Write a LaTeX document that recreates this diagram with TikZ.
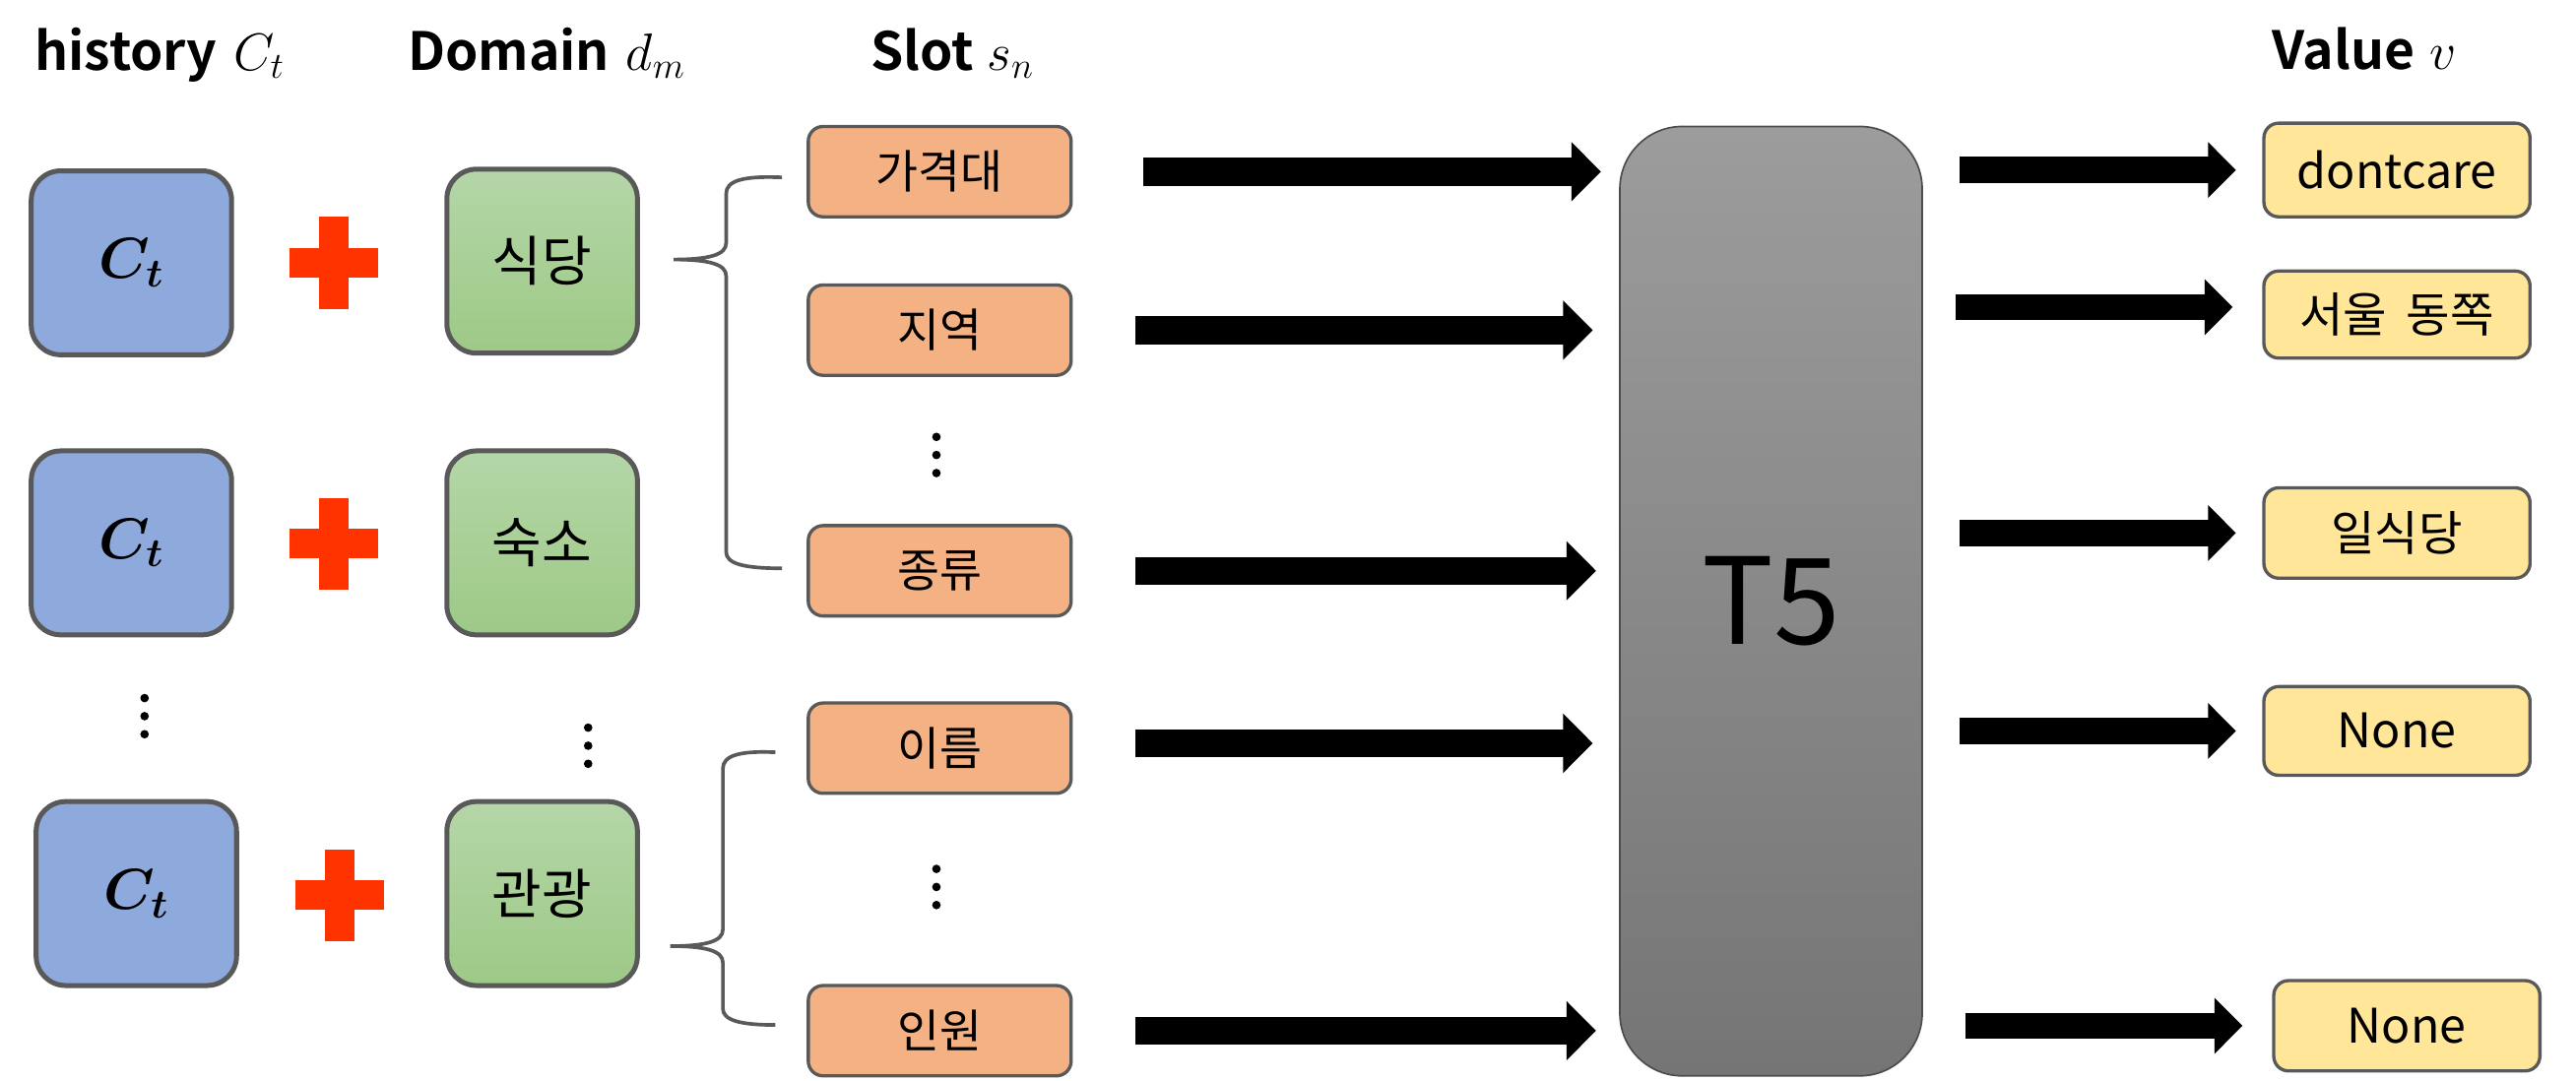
\RequirePackage{fix-cm}
\documentclass[tikz,border=0pt]{standalone}
\usepackage{fontspec}
\usepackage{bm}
\setmainfont{Noto Sans CJK KR}[BoldFont={Noto Sans CJK KR Bold}]
\usetikzlibrary{arrows.meta}

\definecolor{boxedge}{HTML}{595959}
\definecolor{histblue}{HTML}{8EA9DB}
\definecolor{domtop}{HTML}{B5D6A8}
\definecolor{dombot}{HTML}{9DC986}
\definecolor{slotorange}{HTML}{F4B183}
\definecolor{valyellow}{HTML}{FFE699}
\definecolor{plusred}{HTML}{FF3300}
\definecolor{tfivetop}{HTML}{9C9C9C}
\definecolor{tfivebot}{HTML}{757575}

% math symbol set at its own size next to a heading word
\newcommand{\headmath}[1]{{\fontsize{32}{32}\selectfont$#1$}}

\tikzset{
  histbox/.style={draw=boxedge, line width=3pt, rounded corners=18pt, fill=histblue,
    minimum width=122pt, minimum height=112pt, inner sep=0pt, font=\fontsize{35}{35}\selectfont},
  dombox/.style={draw=boxedge, line width=3pt, rounded corners=18pt, top color=domtop, bottom color=dombot,
    minimum width=116pt, minimum height=112pt, inner sep=0pt, font=\fontsize{33}{33}\selectfont},
  slotbox/.style={draw=boxedge, line width=2pt, rounded corners=9pt, fill=slotorange,
    minimum width=160pt, minimum height=55pt, inner sep=0pt, font=\fontsize{28}{28}\selectfont},
  valbox/.style={draw=boxedge, line width=2pt, rounded corners=9pt, fill=valyellow,
    minimum width=162pt, minimum height=55pt, inner sep=0pt, font=\fontsize{29}{29}\selectfont},
  tfive/.style={draw=black!70, line width=1pt, rounded corners=38pt, top color=tfivetop, bottom color=tfivebot,
    minimum width=184pt, minimum height=578pt, inner sep=0pt, font=\fontsize{73}{73}\selectfont},
  title/.style={anchor=base west, inner sep=0pt, font=\bfseries\fontsize{32}{32}\selectfont},
  inarrow/.style={line width=17pt, -{Triangle[length=18pt,width=35pt]}},
  outarrow/.style={line width=16pt, -{Triangle[length=17pt,width=33pt]}},
  bracket/.style={draw=boxedge, line width=2.2pt},
  redplus/.pic={\fill[plusred] (-27,-9) rectangle (27,9); \fill[plusred] (-9,-28) rectangle (9,28);},
  vdots/.pic={\foreach \k in {-11,0,11} \fill (0,\k) circle (2.6pt);}
}

\begin{document}
\begin{tikzpicture}[x=1pt, y=-1pt]
\useasboundingbox (0,0) rectangle (1568,658);

% column headings
\node[title] (hhist) at (21,43) {history\hspace{10pt}\headmath{C_t}};
\node[title] (hdom) at (248,43) {Domain\hspace{10pt}\headmath{d_m}};
\node[title] (hslot) at (530,43) {Slot\hspace{8pt}\headmath{s_n}};
\node[title] (hval) at (1383,42) {Value\hspace{9pt}\headmath{v}};

% dialogue history boxes
\node[histbox] (h1) at (80,160) {$\bm{C_t}$};
\node[histbox] (h2) at (80,330.5) {$\bm{C_t}$};
\node[histbox] (h3) at (83,544) {$\bm{C_t}$};

% plus signs
\pic at (203,160) {redplus};
\pic at (203,331) {redplus};
\pic at (207,545) {redplus};

% domain boxes
\node[dombox] (d1) at (330,159) {식당};
\node[dombox] (d2) at (330,330.5) {숙소};
\node[dombox] (d3) at (330,544) {관광};

% ellipses
\pic at (88,436) {vdots};
\pic at (358,454) {vdots};
\pic at (570,277) {vdots};
\pic at (570,540) {vdots};

% slot boxes
\node[slotbox] (s1) at (572,104.5) {가격대};
\node[slotbox] (s2) at (572,201) {지역};
\node[slotbox] (s3) at (572,347.5) {종류};
\node[slotbox] (s4) at (572,455.5) {이름};
\node[slotbox] (s5) at (572,627.5) {인원};

% braces grouping slots per domain
\draw[bracket] (476,108) .. controls (452,107) and (442,110) .. (442,118) -- (442,148)
  .. controls (442,155) and (432,158) .. (410,158)
  .. controls (432,158) and (442,161) .. (442,168) -- (442,336)
  .. controls (442,343) and (452,346) .. (476,346);
\draw[bracket] (472,458) .. controls (450,457) and (440,460) .. (440,468) -- (440,566)
  .. controls (440,573) and (430,576) .. (408,576)
  .. controls (430,576) and (440,579) .. (440,586) -- (440,614)
  .. controls (440,621) and (450,624) .. (472,624);

% model
\node[tfive] (t5) at (1078,366) {T5};

% value boxes
\node[valbox, minimum height=57pt] (v1) at (1459,103.5) {dontcare};
\node[valbox, minimum height=53pt] (v2) at (1459,191.5) {서울\hspace{0.4em}동쪽};
\node[valbox] (v3) at (1459,324.5) {일식당};
\node[valbox, minimum height=54pt] (v4) at (1459,445) {None};
\node[valbox] (v5) at (1465,624.5) {None};

% slot -> T5
\draw[inarrow, shorten <=43pt, shorten >=11pt] (s1.east) -- (s1.east -| t5.west);
\draw[inarrow, shorten <=38pt, shorten >=16pt] (s2.east) -- (s2.east -| t5.west);
\draw[inarrow, shorten <=38pt, shorten >=14pt] (s3.east) -- (s3.east -| t5.west);
\draw[inarrow, shorten <=38pt, shorten >=16pt] ([yshift=3pt]s4.east) -- ([yshift=3pt]s4.east -| t5.west);
\draw[inarrow, shorten <=38pt, shorten >=14pt] (s5.east) -- (s5.east -| t5.west);

% T5 -> values
\draw[outarrow, shorten <=22pt, shorten >=16pt] (t5.east |- v1.west) -- (v1.west);
\draw[outarrow, shorten <=20pt, shorten >=18pt] ([yshift=4.5pt]t5.east |- v2.west) -- ([yshift=4.5pt]v2.west);
\draw[outarrow, shorten <=22pt, shorten >=16pt] (t5.east |- v3.west) -- (v3.west);
\draw[outarrow, shorten <=22pt, shorten >=16pt] (t5.east |- v4.west) -- (v4.west);
\draw[outarrow, shorten <=26pt, shorten >=18pt] (t5.east |- v5.west) -- (v5.west);
\end{tikzpicture}
\end{document}
